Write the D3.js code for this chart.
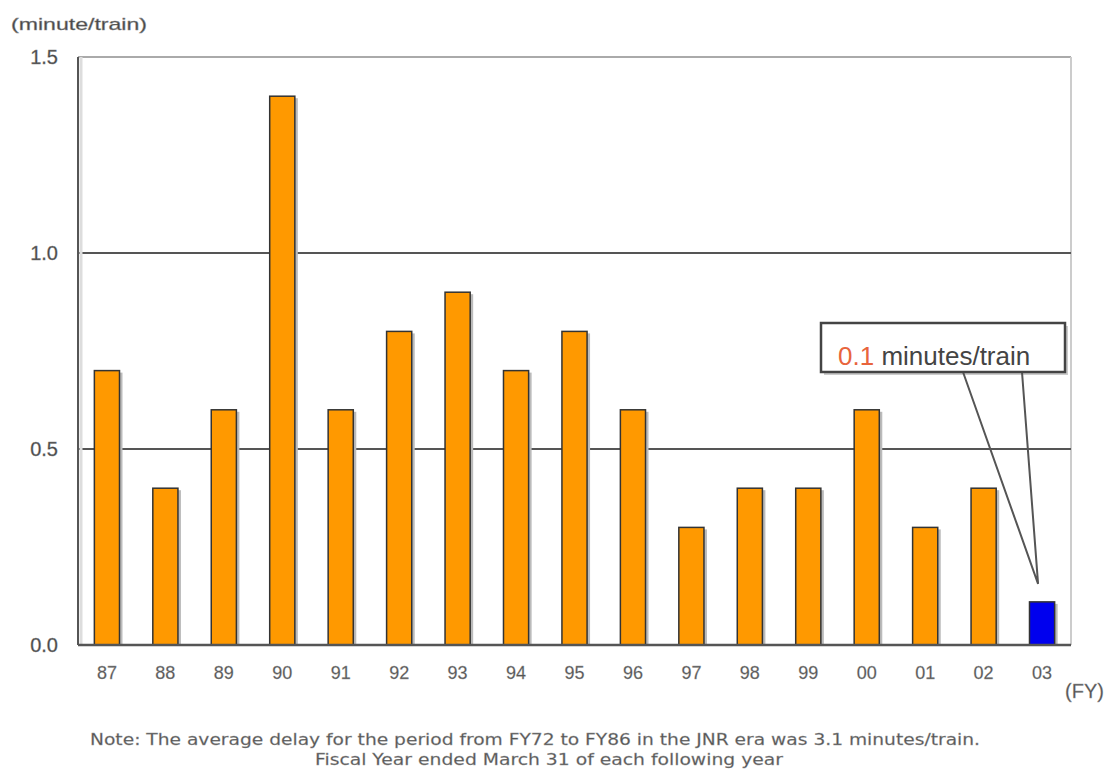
<!DOCTYPE html>
<html><head><meta charset="utf-8">
<script src="https://cdn.jsdelivr.net/npm/d3@7"></script>
<style>body{margin:0;background:#fff}</style>
</head><body>
<svg id="c" width="1112" height="771"></svg>
<script>
const years = ["87","88","89","90","91","92","93","94","95","96","97","98","99","00","01","02","03"];
const delays = [0.7,0.4,0.6,1.4,0.6,0.8,0.9,0.7,0.8,0.6,0.3,0.4,0.4,0.6,0.3,0.4,0.11];
const highlightYear = "03";
const yTicks = [0.0,0.5,1.0,1.5];
const yUnit = "(minute/train)";
const xUnit = "(FY)";
const calloutValue = "0.1";
const calloutUnit = " minutes/train";
const notes = ["Note: The average delay for the period from FY72 to FY86 in the JNR era was 3.1 minutes/train.",
               "Fiscal Year ended March 31 of each following year"];

const FONT = "Liberation Sans, Arial, sans-serif";
const svg = d3.select("#c");
const m = {l:78, r:1071, t:57, b:645};
const x = d3.scaleBand().domain(years).range([m.l, m.r]).paddingInner(0.57).paddingOuter(0.28);
const y = d3.scaleLinear().domain([0,1.5]).range([m.b, m.t]);

// frame
svg.append("line").attr("x1",m.l).attr("x2",m.r).attr("y1",m.t).attr("y2",m.t).attr("stroke","#aaa").attr("stroke-width",2);
svg.append("line").attr("x1",m.r).attr("x2",m.r).attr("y1",m.t).attr("y2",m.b).attr("stroke","#ccc").attr("stroke-width",2);
// grid
svg.append("g").selectAll("line").data(yTicks.filter(d=>d>0&&d<1.5)).join("line")
  .attr("x1",m.l).attr("x2",m.r).attr("y1",d=>y(d)).attr("y2",d=>y(d))
  .attr("stroke","#555").attr("stroke-width",2);
// left axis
svg.append("line").attr("x1",m.l+3).attr("x2",m.l+3).attr("y1",m.t).attr("y2",m.b).attr("stroke","#ddd").attr("stroke-width",3);
svg.append("line").attr("x1",m.l).attr("x2",m.l).attr("y1",m.t).attr("y2",m.b).attr("stroke","#555").attr("stroke-width",2);

// bars shadow
svg.append("g").selectAll("rect").data(years).join("rect")
  .attr("x",d=>x(d)+3).attr("y",(d,i)=>y(delays[i])+2)
  .attr("width",x.bandwidth()).attr("height",(d,i)=>m.b-y(delays[i])-2)
  .attr("fill","#bbb");
svg.append("g").selectAll("rect").data(years).join("rect")
  .attr("x",d=>x(d)).attr("y",(d,i)=>y(delays[i]))
  .attr("width",x.bandwidth()).attr("height",(d,i)=>m.b-y(delays[i]))
  .attr("fill",d=>d===highlightYear?"#0000ee":"#ff9900")
  .attr("stroke","#333").attr("stroke-width",1.5);

// bottom axis
svg.append("line").attr("x1",m.l).attr("x2",m.r).attr("y1",m.b).attr("y2",m.b).attr("stroke","#555").attr("stroke-width",2.5);

// y tick labels
svg.append("g").selectAll("text").data(yTicks).join("text")
  .attr("x",58).attr("y",d=>y(d)+7).attr("text-anchor","end")
  .attr("font-family",FONT).attr("font-size",20).attr("fill","#444")
  .attr("stroke","#888").attr("stroke-width",0.4)
  .text(d=>d.toFixed(1));
svg.append("text").attr("x",11).attr("y",30).attr("font-family",FONT)
  .attr("font-size",17).attr("fill","#444").attr("stroke","#888").attr("stroke-width",0.4)
  .attr("textLength",136).attr("lengthAdjust","spacingAndGlyphs").text(yUnit);

// x labels
svg.append("g").selectAll("text").data(years).join("text")
  .attr("x",d=>x(d)+x.bandwidth()/2).attr("y",679).attr("text-anchor","middle")
  .attr("font-family",FONT).attr("font-size",18).attr("fill","#555")
  .attr("stroke","#999").attr("stroke-width",0.3)
  .text(d=>d);
svg.append("text").attr("x",1065).attr("y",698)
  .attr("font-family",FONT).attr("font-size",20).attr("fill","#555")
  .attr("stroke","#999").attr("stroke-width",0.3).text(xUnit);

// notes
const noteX = [90, 315], noteW = [890, 468];
svg.append("g").selectAll("text").data(notes).join("text")
  .attr("x",(d,i)=>noteX[i]).attr("y",(d,i)=>745+i*20)
  .attr("font-family","DejaVu Sans, sans-serif").attr("font-size",16).attr("fill","#555")
  .attr("stroke","#999").attr("stroke-width",0.3)
  .attr("textLength",(d,i)=>noteW[i]).attr("lengthAdjust","spacingAndGlyphs")
  .text(d=>d);

// callout
const hi = years.indexOf(highlightYear);
const tipX = x(highlightYear)+x.bandwidth()/2-4, tipY = y(delays[hi])-18;
const bx0=821, bx1=1065, by0=323, by1=372;
svg.append("path").attr("d",`M${bx0+3},${by0+3}H${bx1+3}V${by1+3}H${bx0+3}Z`).attr("fill","#ccc");
svg.append("polyline").attr("points",`963,${by1} ${tipX},${tipY} 1022,${by1}`)
  .attr("fill","none").attr("stroke","#555").attr("stroke-width",2);
svg.append("rect").attr("x",bx0).attr("y",by0).attr("width",bx1-bx0).attr("height",by1-by0)
  .attr("fill","#fff").attr("stroke","#444").attr("stroke-width",2.5);
const t = svg.append("text").attr("x",838).attr("y",365).attr("font-family",FONT).attr("font-size",26);
t.append("tspan").attr("fill","#e8643c").text(calloutValue);
t.append("tspan").attr("fill","#444").text(calloutUnit);
</script>
</body></html>
